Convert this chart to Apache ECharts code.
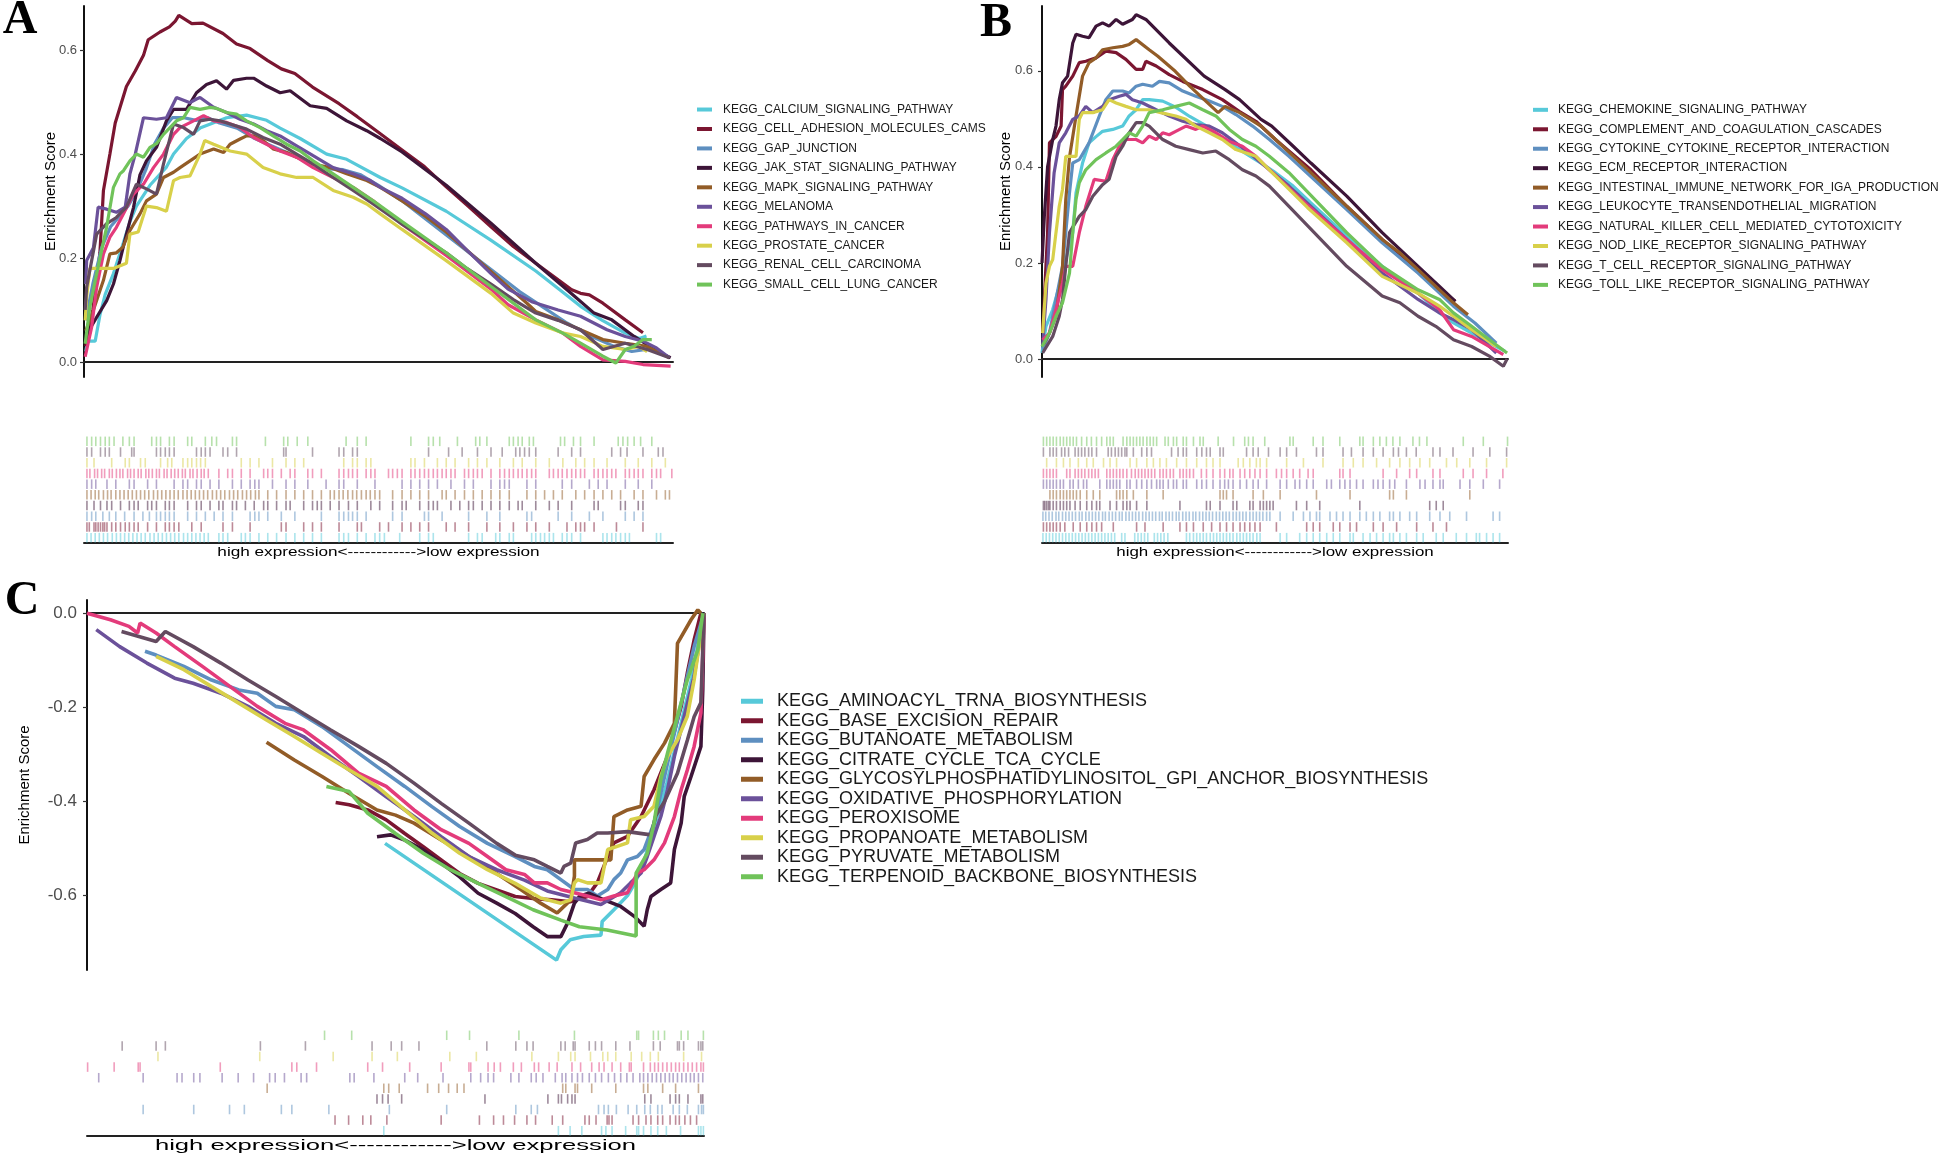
<!DOCTYPE html>
<html><head><meta charset="utf-8">
<script src="https://cdn.jsdelivr.net/npm/echarts@6.0.0/dist/echarts.min.js"></script>
<style>html,body{margin:0;padding:0;background:#fff}#c{width:1946px;height:1158px}</style>
</head><body><div id="c"></div>
<script>
// ---------- palette (same order in every panel) ----------
const palette = ['#57C9D9','#7B1631','#5E8FC0','#3D1538','#925C27','#6B519A','#E33B7B','#D8D04A','#644B60','#70C35A'];

// ---------- names ----------
const namesA = ['KEGG_CALCIUM_SIGNALING_PATHWAY','KEGG_CELL_ADHESION_MOLECULES_CAMS','KEGG_GAP_JUNCTION','KEGG_JAK_STAT_SIGNALING_PATHWAY','KEGG_MAPK_SIGNALING_PATHWAY','KEGG_MELANOMA','KEGG_PATHWAYS_IN_CANCER','KEGG_PROSTATE_CANCER','KEGG_RENAL_CELL_CARCINOMA','KEGG_SMALL_CELL_LUNG_CANCER'];
const namesB = ['KEGG_CHEMOKINE_SIGNALING_PATHWAY','KEGG_COMPLEMENT_AND_COAGULATION_CASCADES','KEGG_CYTOKINE_CYTOKINE_RECEPTOR_INTERACTION','KEGG_ECM_RECEPTOR_INTERACTION','KEGG_INTESTINAL_IMMUNE_NETWORK_FOR_IGA_PRODUCTION','KEGG_LEUKOCYTE_TRANSENDOTHELIAL_MIGRATION','KEGG_NATURAL_KILLER_CELL_MEDIATED_CYTOTOXICITY','KEGG_NOD_LIKE_RECEPTOR_SIGNALING_PATHWAY','KEGG_T_CELL_RECEPTOR_SIGNALING_PATHWAY','KEGG_TOLL_LIKE_RECEPTOR_SIGNALING_PATHWAY'];
const namesC = ['KEGG_AMINOACYL_TRNA_BIOSYNTHESIS','KEGG_BASE_EXCISION_REPAIR','KEGG_BUTANOATE_METABOLISM','KEGG_CITRATE_CYCLE_TCA_CYCLE','KEGG_GLYCOSYLPHOSPHATIDYLINOSITOL_GPI_ANCHOR_BIOSYNTHESIS','KEGG_OXIDATIVE_PHOSPHORYLATION','KEGG_PEROXISOME','KEGG_PROPANOATE_METABOLISM','KEGG_PYRUVATE_METABOLISM','KEGG_TERPENOID_BACKBONE_BIOSYNTHESIS'];

// ---------- tick labels ----------
const ticksAB = [0, 0.2, 0.4, 0.6];
const ticksC = [-0.6, -0.4, -0.2, 0];
const rugLabel = 'high expression<------------>low expression';
const yTitle = 'Enrichment Score';

// ---------- running enrichment scores: [rank %, ES] ----------
const esA1 = [[0.3,0.02],[0.6,0.04],[1.9,0.04],[2.7,0.09],[3.6,0.13],[5.0,0.17],[6.7,0.23],[7.8,0.27],[8.9,0.30],[11.2,0.34],[14.0,0.375],[15.2,0.40],[17.4,0.43],[19.7,0.45],[21.9,0.46],[24.2,0.47],[27.6,0.475],[31.0,0.465],[33.3,0.45],[36.7,0.43],[41.2,0.40],[44.6,0.39],[50.3,0.355],[54,0.335],[61.5,0.29],[69,0.235],[76.7,0.175],[81.2,0.135],[84.3,0.107],[88,0.08],[91.8,0.056],[94.3,0.045],[95.5,0.05]];
const esA2 = [[0.3,0.03],[1.5,0.10],[2.7,0.21],[3.3,0.33],[4.4,0.40],[5.3,0.46],[7.2,0.53],[8.7,0.56],[10.1,0.59],[10.9,0.62],[12.9,0.635],[14.5,0.645],[15.5,0.656],[16.1,0.667],[18.3,0.651],[20.2,0.652],[23.6,0.632],[25.9,0.612],[28.2,0.603],[31.2,0.58],[33.5,0.564],[35.8,0.555],[38.8,0.529],[43.3,0.497],[46.4,0.472],[50.2,0.44],[54,0.408],[57.8,0.376],[61.5,0.337],[65.3,0.299],[69.1,0.26],[72.9,0.222],[76.7,0.19],[80.5,0.158],[82.8,0.139],[84.3,0.132],[85.8,0.129],[88.1,0.113],[91.9,0.081],[94.9,0.056]];
const esA3 = [[0.3,0.08],[1.5,0.15],[3,0.22],[4.5,0.26],[6,0.28],[7.5,0.30],[9,0.33],[10.5,0.37],[12,0.42],[13.5,0.45],[15,0.47],[17,0.47],[19,0.465],[21,0.47],[23,0.46],[26,0.45],[29,0.43],[32,0.415],[35,0.40],[38,0.385],[41,0.372],[44,0.37],[47,0.36],[50,0.34],[54,0.31],[58,0.275],[62,0.24],[66,0.205],[70,0.17],[74,0.135],[78,0.105],[82,0.075],[86,0.05],[90,0.03],[93,0.02],[96,0.025],[98,0.02]];
const esA4 = [[0.3,0.05],[2.15,0.086],[3.85,0.118],[5,0.15],[6.1,0.195],[7.2,0.246],[8.4,0.297],[9.5,0.36],[10.6,0.387],[12.3,0.413],[14,0.464],[15.2,0.486],[17.4,0.486],[19.1,0.518],[20.8,0.534],[22.5,0.541],[24.2,0.525],[25.4,0.542],[27.6,0.546],[28.8,0.546],[31,0.531],[33.3,0.518],[35,0.522],[38.4,0.493],[41.2,0.488],[44.6,0.464],[48,0.445],[50.3,0.43],[54,0.404],[61.5,0.34],[69.1,0.267],[76.7,0.19],[82,0.139],[86.6,0.094],[89.6,0.081],[93.4,0.049],[97.9,0.017],[99.6,0.008]];
const esA5 = [[0.3,0.06],[1.6,0.10],[3.3,0.157],[4.4,0.208],[5.5,0.21],[6.6,0.221],[7.8,0.253],[9.5,0.285],[10.6,0.31],[12.3,0.323],[13.5,0.355],[15.2,0.365],[16.3,0.374],[18,0.387],[19.7,0.40],[22,0.41],[23.7,0.403],[24.8,0.419],[26.5,0.429],[27.6,0.435],[28.8,0.435],[30.4,0.426],[32.1,0.41],[34.4,0.403],[36.1,0.394],[38.9,0.381],[41.8,0.374],[44.6,0.362],[48,0.349],[50.3,0.336],[54,0.31],[58,0.28],[61.5,0.25],[65,0.215],[69,0.175],[72,0.145],[75.2,0.113],[76.7,0.097],[80.5,0.081],[84.3,0.062],[88.1,0.043],[91.9,0.036],[95.6,0.03],[99.4,0.008]];
const esA6 = [[0.3,0.15],[0.45,0.195],[1.6,0.22],[2.4,0.298],[3.85,0.294],[5.5,0.288],[7,0.298],[7.8,0.362],[8.7,0.40],[10.1,0.47],[12.3,0.467],[14,0.47],[15.7,0.509],[18,0.499],[19.1,0.506],[19.7,0.509],[22,0.49],[24.2,0.48],[26.5,0.467],[28.8,0.458],[31,0.445],[33.3,0.435],[36.1,0.416],[38.9,0.397],[42.3,0.374],[45.7,0.362],[48.6,0.349],[50.3,0.336],[54,0.315],[58,0.285],[61.5,0.255],[65,0.215],[69.1,0.17],[72,0.14],[76,0.116],[80.5,0.10],[84.3,0.088],[88.8,0.062],[91.9,0.049],[94.9,0.04],[97.2,0.027],[99.4,0.008]];
const esA7 = [[0.2,0.01],[1.3,0.067],[2.15,0.144],[3.3,0.208],[4.4,0.24],[5.5,0.259],[6.7,0.285],[8.4,0.323],[10.1,0.342],[11.8,0.374],[13.5,0.40],[15.2,0.438],[16.3,0.451],[18.6,0.464],[20.3,0.474],[22,0.464],[24.2,0.461],[26.5,0.451],[28.8,0.432],[31,0.419],[33.3,0.406],[36.1,0.394],[38.9,0.374],[42.3,0.355],[45.7,0.336],[49.1,0.31],[54,0.265],[61.5,0.205],[69.1,0.14],[72,0.11],[76.7,0.081],[81.2,0.056],[84.3,0.03],[88.1,0.004],[91.9,0.001],[94.9,-0.005],[99.6,-0.008]];
const esA8 = [[0.2,0.08],[0.45,0.125],[1,0.18],[2.7,0.18],[5,0.18],[7.2,0.19],[7.8,0.246],[9.2,0.25],[10.6,0.30],[12.3,0.297],[14,0.29],[15.2,0.349],[16.3,0.355],[18,0.358],[19.7,0.40],[20.5,0.426],[22,0.419],[24.8,0.406],[27.6,0.40],[30.4,0.374],[33.3,0.362],[36.1,0.355],[38.9,0.355],[42.3,0.33],[45.7,0.317],[48,0.304],[50.3,0.285],[54,0.255],[61.5,0.195],[69.1,0.132],[72.9,0.094],[76.7,0.075],[81.2,0.056],[84.3,0.049],[88.1,0.03],[91.9,0.024],[94.2,0.03],[95.6,0.02]];
const esA9 = [[0.2,0.10],[0.45,0.144],[2.15,0.246],[3.85,0.266],[5.5,0.278],[7.2,0.298],[8.9,0.342],[10.6,0.333],[12.3,0.323],[13.5,0.381],[15.2,0.458],[16.9,0.451],[18.6,0.438],[19.7,0.464],[21.4,0.467],[23.1,0.464],[24.8,0.458],[27.6,0.448],[30.4,0.432],[33.3,0.419],[36.1,0.40],[38.9,0.381],[42.3,0.355],[45.7,0.33],[49.1,0.304],[54,0.265],[61.5,0.21],[65,0.18],[69.1,0.15],[72.9,0.12],[76.7,0.094],[80.5,0.08],[84.3,0.062],[88.1,0.024],[91.9,0.036],[95.6,0.024],[99.4,0.008]];
const esA10 = [[0.2,0.035],[1,0.106],[2.15,0.17],[3.85,0.26],[5,0.336],[6.1,0.362],[6.7,0.368],[7.8,0.387],[8.9,0.40],[10.1,0.394],[11.2,0.413],[12.3,0.42],[13.5,0.438],[14.6,0.451],[15.7,0.464],[16.9,0.47],[18,0.49],[19.7,0.486],[21.4,0.49],[22.5,0.488],[24.2,0.48],[25.9,0.477],[27.6,0.464],[29.9,0.451],[32.1,0.435],[34.4,0.419],[36.7,0.406],[38.9,0.387],[42.3,0.362],[45.7,0.336],[49.1,0.31],[54,0.27],[61.5,0.21],[69.1,0.145],[76.7,0.081],[81.2,0.056],[84.3,0.036],[88.1,0.011],[90.3,-0.002],[91.9,0.024],[93.4,0.03],[94.9,0.043],[96.4,0.043]];

const esB1 = [[0,0.0125],[0.85,0.068],[2.3,0.103],[3.7,0.151],[5.1,0.207],[6.6,0.263],[7.3,0.346],[8.7,0.408],[10.1,0.45],[11.6,0.463],[13,0.474],[15.2,0.478],[17.3,0.485],[18.7,0.506],[20.2,0.519],[21.6,0.54],[23,0.54],[25.9,0.537],[28.6,0.525],[31.7,0.505],[34.8,0.488],[37.8,0.466],[42.4,0.436],[47,0.408],[50.1,0.388],[53.9,0.36],[57.7,0.325],[65.4,0.256],[73,0.193],[76.8,0.165],[80.7,0.137],[85.3,0.096],[88.3,0.075],[92.2,0.054],[97.5,0.026],[99.4,0.016]];
const esB2 = [[0.14,0.054],[1.2,0.263],[1.6,0.45],[2.3,0.457],[3,0.463],[4.1,0.485],[4.4,0.561],[5.1,0.568],[6.6,0.589],[8,0.617],[9.4,0.62],[11.6,0.627],[13.7,0.641],[15.9,0.638],[18,0.624],[20.2,0.603],[21.6,0.603],[22.3,0.62],[24.5,0.61],[27.3,0.592],[30.2,0.578],[34.5,0.561],[38.7,0.54],[42.4,0.515],[45.9,0.495],[50.1,0.457],[57.7,0.394],[65.4,0.318],[73,0.249],[80.7,0.186],[85.3,0.144],[88.7,0.12]];
const esB3 = [[0.14,0.019],[1.6,0.054],[3,0.124],[4.4,0.193],[5.1,0.263],[5.9,0.346],[6.6,0.408],[8,0.415],[10.1,0.45],[12.3,0.506],[13.7,0.54],[15.2,0.558],[17.3,0.558],[18.7,0.554],[20.2,0.568],[21.6,0.572],[23.7,0.568],[25.2,0.578],[27.3,0.575],[30.2,0.558],[33,0.547],[35.9,0.537],[38.7,0.526],[41.6,0.509],[45.2,0.485],[48.8,0.457],[53,0.422],[57.7,0.38],[65.4,0.311],[73,0.242],[80.7,0.179],[88.3,0.11],[92.9,0.075],[97.5,0.033]];
const esB4 = [[0,0.2],[0.5,0.297],[1.2,0.40],[2.3,0.457],[3,0.485],[3.7,0.54],[4.4,0.575],[5.5,0.589],[6.6,0.658],[7.3,0.676],[8.7,0.672],[10.1,0.669],[11.6,0.693],[13,0.70],[14.4,0.693],[15.9,0.707],[17.3,0.697],[19.4,0.707],[20.2,0.717],[22.3,0.707],[27.3,0.658],[34.8,0.589],[39.3,0.561],[42.4,0.54],[47,0.499],[49.3,0.485],[53.9,0.443],[57.7,0.408],[65.4,0.339],[73,0.263],[80.7,0.193],[85.3,0.151],[88.7,0.12]];
const esB5 = [[0.3,0.03],[1.6,0.054],[3,0.089],[4.4,0.193],[5.1,0.332],[5.9,0.42],[7.3,0.506],[8.7,0.589],[10.1,0.617],[11.6,0.627],[13,0.644],[15.2,0.648],[17.3,0.651],[18.7,0.655],[20.2,0.665],[23,0.644],[24.8,0.631],[28.6,0.599],[31.7,0.568],[34.8,0.54],[37.8,0.513],[39.3,0.526],[42.4,0.513],[47,0.485],[50.1,0.457],[57.7,0.388],[65.4,0.318],[73,0.249],[76.8,0.221],[80.7,0.186],[85.3,0.144],[88.3,0.117],[91.4,0.092]];
const esB6 = [[0.14,0.03],[0.85,0.124],[1.6,0.263],[2.6,0.388],[3.7,0.45],[5.1,0.471],[6.6,0.499],[8,0.506],[9.4,0.526],[10.9,0.513],[13,0.526],[14.4,0.54],[16.6,0.547],[18,0.551],[19.4,0.54],[21.6,0.533],[24.5,0.519],[27.3,0.506],[30.2,0.495],[33,0.488],[35.9,0.485],[38.7,0.471],[41.6,0.45],[44.5,0.429],[48.8,0.394],[53,0.36],[65.4,0.249],[73,0.179],[80.7,0.124],[85.3,0.096],[88.3,0.082],[92.2,0.061],[97.5,0.0125]];
const esB7 = [[0.14,0.04],[1.6,0.054],[3,0.103],[4.4,0.158],[5.1,0.193],[6.6,0.193],[8,0.263],[9.4,0.318],[11.2,0.374],[13.7,0.37],[15.2,0.415],[16.6,0.443],[18,0.457],[20.2,0.457],[21.6,0.45],[23,0.464],[24.5,0.457],[25.9,0.471],[27.3,0.467],[28.7,0.474],[30.9,0.485],[33,0.478],[34.5,0.485],[37.3,0.471],[40.2,0.453],[43,0.443],[45.9,0.422],[48.8,0.394],[57,0.32],[65.4,0.249],[73,0.186],[80.7,0.137],[85.3,0.103],[88.3,0.061],[92.2,0.047],[99,0.009]];
const esB8 = [[0.14,0.054],[0.85,0.158],[1.6,0.193],[2.3,0.207],[3,0.263],[3.7,0.318],[4.4,0.353],[5.1,0.422],[7.3,0.422],[8,0.499],[8.7,0.513],[10.9,0.513],[13,0.519],[14.4,0.54],[15.9,0.533],[18,0.526],[20.2,0.519],[23,0.519],[25.9,0.512],[28.7,0.506],[30.9,0.499],[33,0.485],[35.9,0.471],[38.7,0.457],[41.6,0.436],[43.8,0.429],[45.9,0.422],[48.8,0.394],[57,0.315],[65.4,0.242],[73,0.172],[80.7,0.137],[85.3,0.11],[88.3,0.089],[92.2,0.061],[97.5,0.026]];
const esB9 = [[0.14,0.0125],[2.3,0.047],[3.7,0.089],[4.4,0.124],[5.1,0.193],[5.9,0.263],[8,0.297],[9.4,0.311],[10.9,0.339],[13,0.363],[14.4,0.374],[15.9,0.422],[17.3,0.443],[18.7,0.471],[20.2,0.492],[21.6,0.492],[23,0.485],[25.9,0.457],[28.7,0.443],[31.6,0.436],[34.5,0.429],[37.3,0.433],[40.2,0.415],[43,0.394],[45.9,0.381],[48.8,0.36],[53,0.318],[65.4,0.193],[73,0.131],[76.8,0.117],[80.7,0.089],[84.5,0.068],[88.3,0.04],[92.2,0.026],[96,0.006],[99,-0.015],[99.8,0]];
const esB10 = [[0,0.026],[1.6,0.054],[3,0.089],[4.4,0.117],[5.9,0.179],[6.6,0.263],[7.3,0.332],[8,0.367],[9.4,0.394],[11.6,0.415],[13.7,0.429],[15.9,0.443],[17.3,0.457],[18.7,0.471],[20.2,0.464],[21.6,0.485],[23,0.513],[25.9,0.519],[28.7,0.526],[31.6,0.533],[34.5,0.519],[37.3,0.506],[40.2,0.478],[43,0.457],[45.9,0.443],[48.8,0.422],[53,0.388],[65.4,0.263],[73,0.193],[80.7,0.144],[85.3,0.124],[88.3,0.096],[92.2,0.068],[96,0.04],[99.8,0.0125]];

const esC1 = [[48.3,-0.489],[76.1,-0.737],[76.8,-0.715],[78.3,-0.694],[80.5,-0.687],[83.3,-0.684],[83.5,-0.655],[85.4,-0.63],[87.6,-0.60],[88.5,-0.58],[90,-0.54],[92,-0.45],[94,-0.36],[96,-0.25],[98,-0.14],[100,0]];
const esC2 = [[40.3,-0.402],[42.5,-0.407],[45.5,-0.418],[48.5,-0.439],[51.5,-0.468],[54.5,-0.496],[57.4,-0.524],[60.4,-0.553],[63.4,-0.574],[66.4,-0.588],[69.4,-0.602],[72.3,-0.606],[75.3,-0.609],[78.3,-0.613],[81.1,-0.602],[82.7,-0.573],[84.4,-0.517],[85.4,-0.488],[87.6,-0.474],[89.8,-0.432],[91.9,-0.375],[94.1,-0.304],[96.3,-0.198],[97.3,-0.127],[98.4,-0.057],[99.5,0]];
const esC3 = [[9.4,-0.081],[11.2,-0.089],[15.7,-0.113],[20.2,-0.142],[24.6,-0.163],[27.6,-0.17],[30.6,-0.198],[33.6,-0.205],[38.1,-0.241],[42.5,-0.283],[47,-0.326],[51.5,-0.368],[55.9,-0.411],[60.4,-0.453],[64.9,-0.489],[69.4,-0.517],[72.5,-0.538],[74.6,-0.545],[76.8,-0.566],[79,-0.587],[81.1,-0.587],[82.7,-0.601],[84.4,-0.587],[85.4,-0.566],[86.5,-0.552],[87.6,-0.524],[89.2,-0.517],[90.3,-0.502],[91.9,-0.446],[93.6,-0.347],[95.2,-0.255],[96.8,-0.163],[98.4,-0.071],[100,0]];
const esC4 = [[47,-0.475],[49.2,-0.471],[51.5,-0.482],[54.5,-0.503],[57.4,-0.531],[60.4,-0.56],[63.4,-0.595],[66.4,-0.616],[69.4,-0.638],[72.3,-0.666],[74.6,-0.687],[76.8,-0.687],[77.9,-0.658],[79,-0.616],[79.8,-0.602],[81.3,-0.595],[83.8,-0.609],[86.5,-0.623],[88.7,-0.644],[90.3,-0.665],[90.8,-0.63],[91.4,-0.602],[93,-0.587],[94.6,-0.573],[95.2,-0.502],[96.3,-0.446],[96.8,-0.389],[97.9,-0.347],[99.5,-0.283],[99.8,-0.163],[100,0]];
const esC5 = [[29.1,-0.274],[33.6,-0.312],[38.1,-0.347],[42.5,-0.383],[47,-0.418],[50,-0.429],[53,-0.446],[57.4,-0.482],[61.9,-0.517],[66.4,-0.553],[70.3,-0.587],[73.5,-0.616],[76.2,-0.637],[78.4,-0.609],[79,-0.559],[79,-0.524],[82.2,-0.524],[84.9,-0.524],[85.4,-0.432],[87.6,-0.418],[89.8,-0.41],[90.3,-0.347],[91.9,-0.311],[93.6,-0.276],[95.2,-0.234],[95.7,-0.064],[97.9,-0.014],[99,0.007],[99.5,0]];
const esC6 = [[1.5,-0.035],[5.3,-0.071],[9.7,-0.106],[14.2,-0.138],[17.2,-0.149],[21.7,-0.17],[26.1,-0.198],[30.6,-0.234],[35.1,-0.262],[39.5,-0.305],[44,-0.347],[48.5,-0.39],[53,-0.432],[57.4,-0.475],[61.9,-0.517],[66.4,-0.545],[70.9,-0.567],[74.6,-0.59],[79,-0.605],[83.3,-0.619],[86.5,-0.594],[88.1,-0.573],[89.8,-0.552],[90.8,-0.517],[91.9,-0.474],[93,-0.432],[94.1,-0.375],[95.2,-0.304],[96.8,-0.219],[98.4,-0.134],[100,0]];
const esC7 = [[0,0],[3.8,-0.014],[6.8,-0.028],[8.2,-0.042],[8.6,-0.021],[11.2,-0.042],[14.2,-0.071],[18.7,-0.113],[23.2,-0.156],[27.6,-0.198],[32.1,-0.234],[35.1,-0.248],[39.5,-0.29],[44,-0.34],[48.5,-0.368],[53,-0.418],[57.4,-0.46],[61.9,-0.489],[64.9,-0.517],[67.9,-0.545],[70.9,-0.555],[72.5,-0.573],[74.6,-0.573],[76.8,-0.587],[79,-0.594],[81.1,-0.601],[83.3,-0.609],[85.4,-0.601],[87.6,-0.594],[88.7,-0.566],[89.2,-0.552],[90.3,-0.545],[91.9,-0.524],[93.6,-0.488],[95.2,-0.432],[96.3,-0.375],[97.3,-0.333],[98.4,-0.283],[99.5,-0.212],[99.8,-0.092],[100,0]];
const esC8 = [[11.2,-0.092],[15.7,-0.12],[20.2,-0.156],[24.6,-0.191],[29.1,-0.227],[33.6,-0.262],[38.1,-0.298],[42.5,-0.333],[47,-0.368],[51.5,-0.418],[55.9,-0.467],[60.4,-0.51],[64.9,-0.545],[69.4,-0.574],[73.5,-0.605],[76.8,-0.616],[78.4,-0.609],[79,-0.573],[79.5,-0.566],[81.1,-0.573],[83.3,-0.573],[84.4,-0.502],[87.6,-0.488],[88.1,-0.439],[90.3,-0.432],[91.9,-0.41],[93,-0.347],[94.1,-0.304],[95.7,-0.269],[97.3,-0.219],[98.4,-0.142],[100,0]];
const esC9 = [[5.6,-0.039],[11.2,-0.06],[12.7,-0.039],[17.2,-0.071],[21.7,-0.106],[26.1,-0.142],[30.6,-0.177],[35.1,-0.213],[39.5,-0.248],[44,-0.283],[48.5,-0.319],[53,-0.361],[57.4,-0.404],[61.9,-0.446],[66.4,-0.489],[69.4,-0.514],[72.5,-0.524],[74.6,-0.538],[76.8,-0.552],[77.3,-0.538],[78.4,-0.531],[79.2,-0.488],[81.1,-0.481],[82.7,-0.467],[84.4,-0.467],[87.6,-0.464],[91.4,-0.471],[92.2,-0.43],[93.6,-0.40],[95.7,-0.34],[97.3,-0.27],[98.4,-0.22],[99.5,-0.19],[100,0]];
const esC10 = [[38.8,-0.368],[42.5,-0.379],[45.5,-0.425],[50,-0.468],[54.5,-0.51],[58.9,-0.545],[63.4,-0.574],[67.9,-0.602],[72.3,-0.63],[76.8,-0.652],[79.8,-0.666],[84.3,-0.673],[89,-0.686],[89,-0.552],[90.8,-0.51],[91.9,-0.446],[93,-0.354],[94.1,-0.297],[95.7,-0.219],[97.3,-0.142],[99,-0.078],[99.8,0]];

// ---------- hit positions (rank %) for the barcode rows ----------
const rugA1 = [0.5,1.2,1.9,2.6,3.3,4.0,4.8,5.5,6.2,6.9,7.6,8.3,9.0,9.7,10.4,11.2,11.9,12.6,13.3,14.0,14.7,15.4,16.1,16.9,17.6,18.3,19.0,19.7,20.4,21.1,22.9,23.6,24.4,26.7,27.4,28.2,29.7,31.2,32.7,34.3,35.8,37.3,38.8,40.3,43.3,44.1,44.9,46.4,47.9,49.4,50.2,51.0,53.6,57.0,58.5,59.3,65.3,66.8,67.6,69.9,70.6,72.2,72.9,76.0,76.7,77.5,78.2,79.0,79.7,81.2,82.0,82.8,84.3,88.1,88.8,89.6,90.3,91.1,91.9,92.6,97.2,97.9];
const rugA2 = [0.5,0.9,1.7,2.0,2.4,2.8,3.2,3.5,3.9,4.7,5.4,6.2,7.0,7.7,8.5,9.2,10.8,12.3,13.8,14.5,15.3,16.1,18.3,19.9,23.6,25.2,28.2,33.5,34.3,37.3,38.8,40.3,43.3,46.4,47.1,50.2,51.7,54.0,55.5,57.0,58.5,61.5,63.0,65.3,68.4,70.6,72.9,75.2,76.7,79.0,82.0,83.5,84.3,85.0,86.6,90.4,94.9];
const rugA3 = [0.5,1.3,2.0,3.2,4.3,5.4,6.9,8.5,10.0,11.1,12.3,13.0,13.8,14.5,15.3,17.6,19.1,20.6,22.1,23.6,25.2,28.2,29.0,29.7,31.2,33.5,35.8,40.3,43.3,44.1,44.9,45.6,46.4,47.9,52.4,54.0,57.8,58.5,60.8,65.3,68.4,70.6,75.2,76.0,80.5,82.8,85.8,88.1,91.9,93.4,94.9];
const rugA4 = [0.5,1.7,2.8,3.9,4.7,6.2,7.7,8.5,9.2,10.8,11.5,12.3,13.8,14.5,15.3,17.6,19.1,19.9,21.4,22.9,23.6,25.2,25.9,27.4,28.9,30.5,31.2,32.7,34.3,35.0,37.3,38.8,39.6,40.3,41.8,43.3,44.9,46.4,48.7,50.2,52.4,54.0,54.7,57.0,58.5,59.3,60.0,62.3,63.8,65.3,66.1,67.6,69.1,70.6,72.2,73.7,74.4,76.7,79.0,80.5,82.8,86.6,87.3,91.1,91.9,94.1,94.9];
const rugA5 = [0.5,1.2,1.9,2.5,3.3,4.0,4.6,5.4,6.1,6.8,7.5,8.2,8.9,9.6,10.3,11.0,11.8,12.5,13.2,13.9,14.6,15.3,16.0,16.8,17.5,18.2,18.9,19.6,20.3,21.0,21.8,22.5,23.2,23.9,24.7,25.4,26.1,26.9,27.6,28.3,29.1,29.7,31.2,32.7,34.3,35.8,37.3,38.8,40.3,41.8,42.5,43.3,44.0,44.8,45.6,46.3,47.1,47.9,48.6,49.4,50.2,52.4,54.0,55.5,57.0,58.5,60.8,61.5,63.0,64.6,66.1,67.6,69.1,70.6,72.2,75.2,76.7,78.2,79.7,81.2,83.5,85.0,86.6,88.1,89.6,91.1,93.4,94.9,97.2,98.7,99.4];
const rugA6 = [0.5,1.3,2.0,3.9,5.4,7.7,8.5,10.8,12.3,15.3,16.8,17.6,19.1,19.9,21.4,22.9,25.2,26.7,28.2,29.0,29.7,32.0,34.3,35.8,38.0,41.1,43.3,44.1,46.4,49.4,54.0,55.5,57.0,58.5,60.0,62.3,64.6,66.1,69.1,70.6,71.4,72.2,75.2,76.7,81.2,82.8,85.8,87.3,88.8,91.9,94.1,96.4];
const rugA7 = [0.5,1.0,1.8,2.3,3.0,3.5,4.3,4.8,5.5,6.1,6.6,7.4,7.9,8.5,9.2,9.7,10.5,11.0,11.6,12.3,12.8,13.6,14.1,14.8,15.4,16.0,16.7,17.2,18.0,18.5,19.2,19.9,20.4,21.1,22.9,24.4,25.2,26.7,28.2,30.5,31.2,32.0,33.5,35.0,35.8,38.0,38.8,40.3,43.3,44.1,44.9,45.6,46.4,47.9,48.7,49.4,51.7,52.4,53.2,54.0,55.5,56.2,57.0,57.8,58.5,59.3,60.0,60.8,61.5,62.3,63.0,64.6,65.3,66.1,66.8,67.6,69.1,70.6,71.4,72.2,72.9,73.7,74.4,75.2,76.0,76.7,79.0,79.7,80.5,81.2,82.0,82.8,83.5,84.3,85.0,86.6,87.3,88.1,88.8,89.6,90.3,91.9,92.6,93.4,94.1,94.9,96.4,97.2,97.9,99.8];
const rugA8 = [0.5,1.7,4.7,7.0,7.7,9.6,10.4,13.0,14.2,14.9,16.8,17.6,18.3,19.1,19.8,20.6,26.7,28.2,29.7,32.0,34.3,35.8,37.3,44.1,45.6,46.4,47.9,48.7,55.5,56.2,57.8,60.0,61.5,63.0,65.3,66.8,68.4,70.6,72.9,74.4,76.7,79.0,81.3,83.5,85.0,86.6,88.8,91.9,94.1,96.4,98.7];
const rugA9 = [0.5,1.3,2.8,3.6,4.3,6.2,8.1,8.5,12.3,13.0,13.8,14.5,15.3,19.1,19.9,20.6,21.4,23.6,24.4,25.9,33.9,34.3,38.8,43.3,44.1,45.6,46.4,58.5,61.9,64.2,66.8,69.1,71.0,73.3,74.0,74.8,75.6,76.7,80.5,82.8,84.3,89.6,91.1,92.2,94.9,97.5,98.3];
const rugA10 = [0.5,1.3,2.0,2.8,3.6,4.3,5.1,6.6,7.7,8.5,11.5,12.3,13.0,14.5,15.3,17.6,18.3,20.6,21.7,22.5,25.2,25.9,30.8,33.9,34.6,36.2,38.0,44.5,46.4,47.9,55.5,58.5,59.3,60.4,63.4,66.5,67.2,68.4,72.2,72.9,73.7,74.4,75.6,76.3,80.9,81.6,83.1,84.3,86.6,90.7,91.5,92.3,93.4,94.5,96.4];

const rugB1 = [0.2,0.9,1.6,2.3,3.0,3.7,4.4,5.1,5.8,6.5,7.2,7.9,8.6,9.3,10.0,10.7,11.4,12.1,12.8,13.5,14.2,14.9,15.6,17.1,17.8,19.9,20.6,21.3,22.0,22.7,24.1,24.8,25.5,26.2,27.0,31.0,31.7,32.5,33.2,33.9,34.6,35.3,36.1,36.8,37.5,38.2,38.9,39.6,40.3,41.0,41.8,42.5,43.2,43.9,44.6,45.3,46.1,46.8,51.1,52.5,55.3,56.8,58.2,59.6,61.1,62.5,63.9,66.1,66.8,68.9,70.4,71.8,73.2,74.6,75.4,76.8,78.2,80.4,81.8,84.6,86.1,88.9,91.1,93.2,93.9,95.4,96.8,98.2];
const rugB2 = [0.3,1.0,1.7,2.4,3.1,3.9,4.9,6.7,8.2,9.6,10.7,11.7,12.8,15.3,20.3,22.1,26.0,29.6,31.0,32.5,34.6,36.4,38.2,39.6,41.0,42.5,43.5,44.6,45.7,46.8,50.3,56.8,58.2,59.6,62.5,63.9,66.1,67.5,71.1,73.2,76.1,80.4,83.9,86.8];
const rugB3 = [0.2,0.8,1.5,2.2,3.0,3.6,4.4,5.1,5.8,6.5,7.2,8.0,8.6,9.4,10.1,10.8,11.5,12.2,13.0,13.6,14.4,15.1,15.8,16.6,17.2,18.0,18.7,19.4,20.1,20.8,21.6,22.3,23.0,23.7,24.4,25.2,25.8,26.6,27.3,28.0,28.8,29.4,30.2,30.9,31.6,32.4,33.0,33.8,34.5,35.2,35.9,36.6,37.4,38.1,38.8,39.5,40.2,41.0,41.7,42.4,43.1,43.8,44.6,45.3,46.0,46.7,47.4,48.2,48.9,51.1,53.9,56.1,57.5,58.9,59.6,61.8,63.2,64.6,66.1,68.2,69.6,71.1,72.5,74.6,75.4,76.8,78.9,80.4,83.2,85.4,87.5,91.1,96.8,98.2];
const rugB4 = [0.3,0.6,1.0,1.4,1.7,2.4,3.1,3.9,4.6,5.3,6.0,7.1,8.2,9.6,10.7,11.7,12.4,14.6,16.0,17.4,18.2,18.9,20.3,22.5,29.6,35.3,36.1,38.2,41.0,41.8,44.6,45.3,46.8,47.5,48.2,48.9,49.6,54.6,56.8,59.6,68.2,83.2,84.6,86.1];
const rugB5 = [1.7,2.4,3.1,3.9,4.6,5.3,6.0,6.7,7.4,8.2,9.6,11.0,12.4,16.0,16.7,17.4,18.2,19.6,22.5,26.0,38.2,38.9,39.6,41.0,45.3,47.5,51.1,58.9,66.1,74.6,75.4,78.2,91.8];
const rugB6 = [0.3,1.0,1.7,2.4,3.1,3.9,4.6,6.0,6.7,7.8,8.9,9.6,12.4,13.9,14.6,15.3,16.0,16.7,18.2,18.9,20.3,21.4,22.5,23.5,24.6,25.3,26.0,27.1,28.2,28.9,30.3,31.0,33.2,34.3,35.3,36.7,38.2,39.2,40.0,41.0,42.5,43.9,45.3,46.4,48.2,51.1,52.5,54.3,55.3,56.8,58.2,61.1,62.1,63.9,65.0,66.1,67.5,68.9,71.1,72.1,73.2,74.6,75.7,78.2,81.1,82.2,83.9,85.4,86.1,89.7,91.8,94.7,98.2];
const rugB7 = [0.3,1.0,1.7,2.4,3.1,5.3,6.0,7.1,7.8,8.5,9.2,10.0,10.7,11.4,12.1,13.9,14.6,15.3,16.0,16.7,17.4,18.2,19.2,20.0,20.7,21.4,22.1,22.8,23.5,24.2,25.3,26.0,26.7,27.5,28.2,29.6,30.3,31.0,31.7,32.5,34.2,35.3,36.7,38.2,39.2,40.3,41.0,42.5,43.5,44.6,45.7,46.8,48.2,50.3,51.4,52.5,53.9,55.3,57.1,58.2,63.9,64.6,66.1,73.2,76.1,78.9,80.4,83.9,85.4,90.4,92.5,95.4,98.9];
const rugB8 = [1.0,3.1,4.6,6.0,7.8,9.6,11.0,13.2,14.6,16.0,18.9,20.3,22.5,23.9,25.3,26.7,28.9,31.0,33.2,35.3,36.7,38.2,42.1,43.2,44.6,46.0,46.8,48.2,52.5,56.1,60.3,64.6,66.8,68.9,71.8,74.6,76.8,78.9,81.1,83.2,86.8,89.0,91.8,95.4,99.7];
const rugB9 = [0.3,1.7,2.4,3.1,4.2,4.9,5.7,7.1,7.8,8.5,9.2,10.0,10.7,11.7,14.2,14.9,15.7,16.4,17.1,17.8,18.2,19.6,21.4,22.5,23.5,27.8,29.2,30.3,31.0,33.2,34.3,35.3,36.1,38.2,38.9,43.9,45.3,46.4,48.6,51.1,52.5,54.6,58.9,60.3,64.6,66.4,68.9,71.1,73.2,75.4,76.5,78.2,80.3,83.9,85.4,88.2,92.5,96.1,99.7];
const rugB10 = [0.3,1.0,1.7,2.4,3.1,3.9,4.6,5.3,6.0,6.7,7.4,8.5,9.6,10.6,11.7,12.8,13.9,14.6,15.3,17.4,18.2,18.9,19.6,20.3,21.0,21.7,22.5,23.2,23.9,24.6,26.4,27.1,28.2,28.9,30.3,31.0,32.5,33.9,34.6,37.8,41.1,43.5,44.3,45.3,47.8,53.2,53.9,58.2,60.3,63.9,68.2,68.9,71.1,72.5,73.9,75.3,76.8,79.6,81.0,82.6,90.4,94.7,99.9];

const rugC1 = [48.1,76.4,78.3,80.2,83.4,84.1,85.1,87.3,89.1,89.4,90.2,91.4,92.5,93.9,96.2,99.1,99.5,99.9];
const rugC2 = [40.2,42.4,44.7,46.0,48.6,57.4,63.6,65.9,67.5,69.3,71.3,72.7,75.4,77.1,80.7,81.4,82.5,84.3,84.6,85.1,88.5,89.4,90.6,91.4,92.5,93.3,94.5,95.4,96.0,96.9,97.8,98.8];
const rugC3 = [9.1,17.3,23.1,25.5,31.5,33.2,39.2,49.0,58.3,69.5,72.0,73.0,82.9,83.8,84.5,85.8,87.7,89.1,90.4,91.3,92.5,93.2,95.0,96.0,97.3,99.1,99.6,99.9];
const rugC4 = [47.0,47.9,48.8,51.0,64.5,74.7,76.4,76.9,77.9,78.6,79.1,90.4,91.4,94.5,95.4,96.0,97.4,99.5,99.8];
const rugC5 = [29.2,48.1,48.9,50.6,55.2,57.0,58.6,60.0,61.1,77.1,77.6,79.1,79.5,81.8,85.7,90.2,90.9,93.3,95.4,99.1];
const rugC6 = [1.9,9.1,14.6,15.4,17.3,18.3,21.9,24.5,27.0,29.6,30.5,32.0,34.7,35.6,42.6,43.3,46.5,51.5,53.6,57.7,62.2,63.8,65.0,65.9,68.7,70.0,72.0,72.8,73.9,75.9,77.0,77.6,78.6,79.5,80.3,81.4,82.4,83.4,84.5,85.5,86.5,87.5,88.5,89.6,90.2,90.9,91.6,92.3,93.0,93.7,94.4,95.0,95.7,96.4,97.1,97.8,98.4,99.1,99.8];
const rugC7 = [0.1,4.4,8.3,8.6,21.6,33.2,34.0,37.2,45.5,47.9,52.3,57.4,61.9,62.2,65.0,66.0,67.0,69.1,70.4,72.5,73.2,74.9,76.2,78.6,80.0,81.8,83.0,83.8,85.1,86.5,87.9,88.2,90.2,91.3,92.0,92.6,93.3,94.0,94.7,95.4,96.0,96.7,97.4,98.1,98.8,99.5,99.9];
const rugC8 = [11.5,28.0,39.9,46.2,50.3,58.8,63.1,72.1,76.4,78.4,79.1,81.6,83.6,84.4,85.7,88.2,89.9,91.3,92.6,96.7,99.6];
const rugC9 = [5.7,11.2,12.7,28.1,35.4,46.2,49.3,51.0,53.8,64.8,69.5,71.3,72.3,76.8,77.5,78.8,79.1,81.4,82.4,83.4,85.7,88.0,91.8,92.9,95.7,96.0,96.7,99.1,99.5,99.8];
const rugC10 = [38.5,42.9,58.3,62.0,70.0,79.0,89.1,89.4,91.8,92.6,93.6,96.3,97.4,99.9];

// ---------- assembly ----------
const FONT = '"Liberation Sans", Arial, Helvetica, sans-serif';
const esA = [esA1,esA2,esA3,esA4,esA5,esA6,esA7,esA8,esA9,esA10];
const esB = [esB1,esB2,esB3,esB4,esB5,esB6,esB7,esB8,esB9,esB10];
const esC = [esC1,esC2,esC3,esC4,esC5,esC6,esC7,esC8,esC9,esC10];
const rugA = [rugA1,rugA2,rugA3,rugA4,rugA5,rugA6,rugA7,rugA8,rugA9,rugA10];
const rugB = [rugB1,rugB2,rugB3,rugB4,rugB5,rugB6,rugB7,rugB8,rugB9,rugB10];
const rugC = [rugC1,rugC2,rugC3,rugC4,rugC5,rugC6,rugC7,rugC8,rugC9,rugC10];

const grids = [
  {left:84, top:6, width:589, height:371},
  {left:84, top:436, width:589, height:107},
  {left:1042, top:6, width:466, height:371},
  {left:1042, top:436, width:466, height:107},
  {left:87, top:600, width:617, height:370},
  {left:87, top:1030, width:617, height:106}
].map(g => Object.assign(g, {containLabel:false, outerBoundsMode:'none'}));

function lineX(gi){
  return {type:'value', gridIndex:gi, min:0, max:100, show:true,
    axisLine:{show:true, onZero:true, lineStyle:{color:'#222', width:2}},
    axisTick:{show:false}, axisLabel:{show:false}, splitLine:{show:false}};
}
function rugX(gi){
  return {type:'value', gridIndex:gi, min:0, max:100, show:true,
    axisLine:{show:true, onZero:false, lineStyle:{color:'#222', width:2}},
    axisTick:{show:false}, axisLabel:{show:false}, splitLine:{show:false}};
}
function lineY(gi, min, max, ticks, fs, margin){
  return {type:'value', gridIndex:gi, min:min, max:max,
    axisLine:{show:true, onZero:false, lineStyle:{color:'#111', width:2}},
    axisTick:{show:true, length:4, customValues:ticks, lineStyle:{color:'#333', width:1.2}},
    axisLabel:{show:true, customValues:ticks, formatter:v => v.toFixed(1), color:'#4D4D4D', fontSize:fs, fontFamily:FONT, margin:margin},
    splitLine:{show:false}};
}
function rugY(gi){
  return {type:'value', gridIndex:gi, min:-0.5, max:9.5, show:false, splitLine:{show:false}};
}

const series = [];
function addPanel(names, es, rug, lineGi, rugGi, lw){
  es.forEach((d, i) => {
    series.push({type:'line', name:names[i], data:d, xAxisIndex:lineGi, yAxisIndex:lineGi,
      showSymbol:false, symbol:'none', smooth:false, animation:false, silent:true,
      lineStyle:{color:palette[i], width:lw}, itemStyle:{color:palette[i]}, z:3});
  });
  rug.forEach((d, i) => {
    series.push({type:'scatter', data:d.map(p => [p, i]), xAxisIndex:rugGi, yAxisIndex:rugGi,
      symbol:'rect', symbolSize:[1.6, 9.5], silent:true, animation:false,
      itemStyle:{color:palette[i], opacity:0.5}});
  });
}
addPanel(namesA, esA, rugA, 0, 1, 3.2);
addPanel(namesB, esB, rugB, 2, 3, 3.2);
addPanel(namesC, esC, rugC, 4, 5, 3.6);

function legend(names, left, top, iw, ih, fs, lh, pad){
  return {show:true, orient:'vertical', left:left, top:top, padding:0, data:names, icon:'rect',
    itemWidth:iw, itemHeight:ih, itemGap:0, selectedMode:false,
    textStyle:{fontSize:fs, fontFamily:FONT, color:'#1a1a1a', lineHeight:lh, padding:[0,0,0,pad]}};
}

function txt(x, y, text, font, opts){
  return Object.assign({type:'text', x:x, y:y, silent:true,
    style:{text:text, x:0, y:0, font:font, fill:'#000', align:'center', verticalAlign:'middle', textAlign:'center', textVerticalAlign:'middle'}}, opts || {});
}
const letterFont = 'bold 48px "Liberation Serif", "Times New Roman", serif';
const graphic = [
  txt(20, 21, 'A', letterFont),
  txt(996, 24, 'B', letterFont),
  txt(22, 602, 'C', letterFont),
  txt(50.6, 191.5, yTitle, '15px ' + FONT, {rotation:Math.PI/2}),
  txt(1006, 191.5, yTitle, '15px ' + FONT, {rotation:Math.PI/2}),
  txt(25, 785, yTitle, '15px ' + FONT, {rotation:Math.PI/2}),
  txt(378.5, 552.7, rugLabel, '13px ' + FONT, {scaleX:1.32}),
  txt(1275, 552.7, rugLabel, '13px ' + FONT, {scaleX:1.30}),
  txt(395.5, 1146, rugLabel, '14px ' + FONT, {scaleX:1.83})
];

const option = {
  animation:false,
  backgroundColor:'#ffffff',
  textStyle:{fontFamily:FONT},
  grid:grids,
  xAxis:[lineX(0), rugX(1), lineX(2), rugX(3), lineX(4), rugX(5)],
  yAxis:[lineY(0, -0.029, 0.685, ticksAB, 13, 7), rugY(1),
         lineY(2, -0.0375, 0.735, ticksAB, 13, 9), rugY(3),
         lineY(4, -0.758, 0.028, ticksC, 17, 10), rugY(5)],
  legend:[
    legend(namesA, 697, 99.8, 15, 4, 12, 19.45, 6),
    legend(namesB, 1533, 100.1, 15, 4, 12, 19.45, 5),
    legend(namesC, 741, 691.5, 22, 5, 18, 19.5, 9)
  ],
  graphic:graphic,
  series:series
};

const chart = echarts.init(document.getElementById('c'), null, {renderer:'canvas', width:1946, height:1158});
chart.setOption(option);
</script>
</body></html>
